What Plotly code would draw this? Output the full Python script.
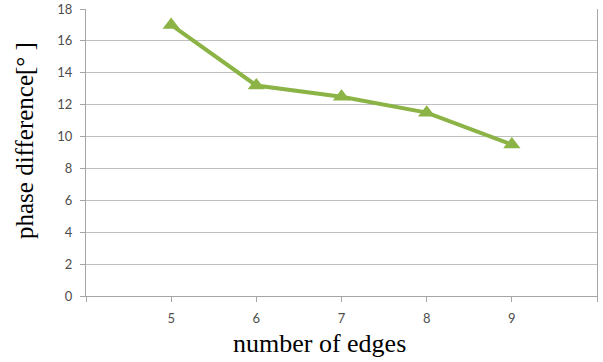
import plotly.graph_objects as go

edges = [5, 6, 7, 8, 9]
phase_diff = [17.0, 13.2, 12.5, 11.5, 9.5]
x_tickvals = [4, 5, 6, 7, 8, 9, 10]
x_ticktext = ["", "5", "6", "7", "8", "9", ""]
y_tickvals = [0, 2, 4, 6, 8, 10, 12, 14, 16, 18]

fig = go.Figure()
fig.add_trace(go.Scatter(
    x=edges, y=phase_diff, mode="lines+markers",
    line=dict(color="#8bb345", width=4),
    marker=dict(symbol="triangle-up", size=15, color="#8bb345"),
    showlegend=False,
))

tickfont = dict(family="Lato, Open Sans, sans-serif", size=13, color="#4d4d4d")
titlefont = dict(family="Liberation Serif, Times New Roman, serif", size=26, color="black")
fig.update_layout(
    width=603, height=362,
    margin=dict(l=86, r=6, t=9, b=66, autoexpand=False),
    paper_bgcolor="white", plot_bgcolor="white",
    xaxis=dict(
        range=[4, 10], tickvals=x_tickvals, ticktext=x_ticktext,
        showgrid=False, showline=True, linecolor="#a6a6a6", linewidth=1,
        ticks="outside", ticklen=5, tickcolor="#a6a6a6", ticklabelstandoff=5,
        tickfont=tickfont, zeroline=False, automargin=False,
    ),
    yaxis=dict(
        range=[0, 18], tickvals=y_tickvals,
        showgrid=True, gridcolor="#bfbfbf", gridwidth=1,
        showline=True, linecolor="#a6a6a6", linewidth=1, mirror=True,
        ticks="outside", ticklen=5, tickcolor="#a6a6a6", ticklabelstandoff=5,
        tickfont=tickfont, zeroline=False, automargin=False,
    ),
    annotations=[
        dict(text="number of edges", xref="paper", yref="paper", x=0.456, y=0,
             yshift=-47, xanchor="center", yanchor="middle", showarrow=False, font=titlefont),
        dict(text="phase difference[° ]", xref="paper", yref="paper", x=0, y=0.54,
             xshift=-62, textangle=-90, xanchor="center", yanchor="middle", showarrow=False,
             font=dict(family="Liberation Serif, Times New Roman, serif", size=25, color="black")),
    ],
)

fig.write_html("out.html", config={"displayModeBar": False},
               post_script="document.body.style.margin='0px';")
